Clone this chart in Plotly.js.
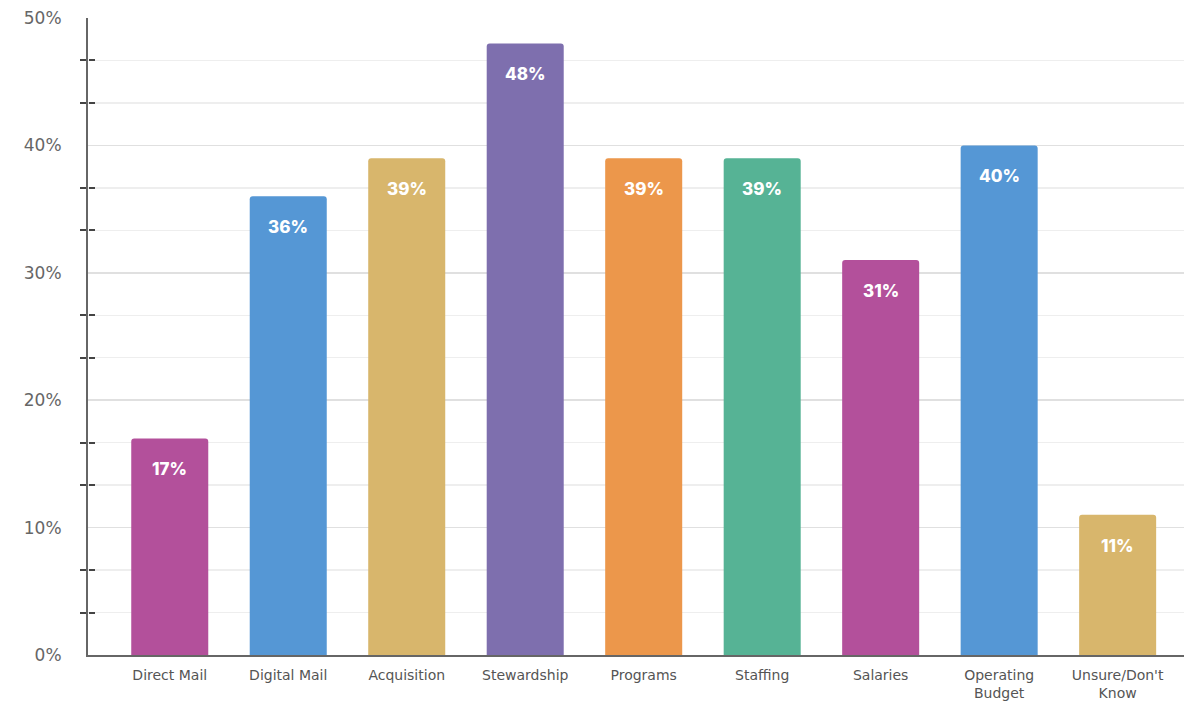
<!DOCTYPE html>
<html><head><meta charset="utf-8">
<script src="https://cdn.plot.ly/plotly-3.0.1.min.js"></script>
<style>html,body{margin:0;padding:0;background:#fff}#c{width:1184px;height:711px}</style>
</head><body><div id="c"></div>
<script>
const categories = ["Direct Mail","Digital Mail","Acquisition","Stewardship","Programs","Staffing","Salaries","Operating<br>Budget","Unsure/Don't<br>Know"];
const values = [17,36,39,48,39,39,31,40,11];
const colors = ["#b3509b","#5597d5","#d8b66c","#7e6fae","#ec974b","#56b395","#b3509b","#5597d5","#d8b66c"];
const yTicks = [0,10,20,30,40,50];
const minorTicks = [10/3,20/3,40/3,50/3,70/3,80/3,100/3,110/3,130/3,140/3];

const trace = {
  type:'bar', x:categories, y:values,
  marker:{color:colors, cornerradius:3},
  width:0.65, hoverinfo:'skip'
};
const ghost = {type:'scatter', x:[categories[0]], y:[0], yaxis:'y2', mode:'markers', marker:{opacity:0}, hoverinfo:'skip', showlegend:false};

const annotations = categories.map((c,i)=>({
  x:c, y:values[i], xref:'x', yref:'y', text:values[i]+'%', showarrow:false,
  yshift:-31, font:{family:'Inter, Open Sans, sans-serif', size:17, color:'#ffffff', weight:800}
}));

const layout = {
  width:1184, height:711,
  margin:{l:88, r:0, t:18, b:56},
  paper_bgcolor:'#fff', plot_bgcolor:'#fff',
  showlegend:false,
  bargap:0.35,
  xaxis:{range:[-0.69,8.56], showline:true, linecolor:'#666', linewidth:2, ticks:'', ticklabelstandoff:6,
    tickfont:{family:'DejaVu Sans, sans-serif', size:14, color:'#555'}, showgrid:false, fixedrange:true},
  yaxis:{range:[0,50], tickvals:yTicks, ticktext:yTicks.map(v=>v+'%'), showline:true, linecolor:'#666', linewidth:2,
    ticks:'', ticklabelstandoff:21,
    tickfont:{family:'DejaVu Sans, sans-serif', size:17, color:'#666'},
    showgrid:true, gridcolor:'#e0e0e0', gridwidth:1.5, zeroline:false,
    minor:{tickmode:'array', tickvals:minorTicks, ticks:'outside', ticklen:6, tickcolor:'#444', tickwidth:2, showgrid:true, gridcolor:'#eeeeee', gridwidth:1.5}},
  yaxis2:{range:[0,50], overlaying:'y', side:'right', anchor:'free', position:0, showticklabels:false, showgrid:false, zeroline:false, showline:false,
    tickmode:'array', tickvals:minorTicks, ticks:'outside', ticklen:6, tickcolor:'#444', tickwidth:2},
  annotations:annotations
};
Plotly.newPlot('c',[trace, ghost],layout,{displayModeBar:false,staticPlot:true});
</script></body></html>
